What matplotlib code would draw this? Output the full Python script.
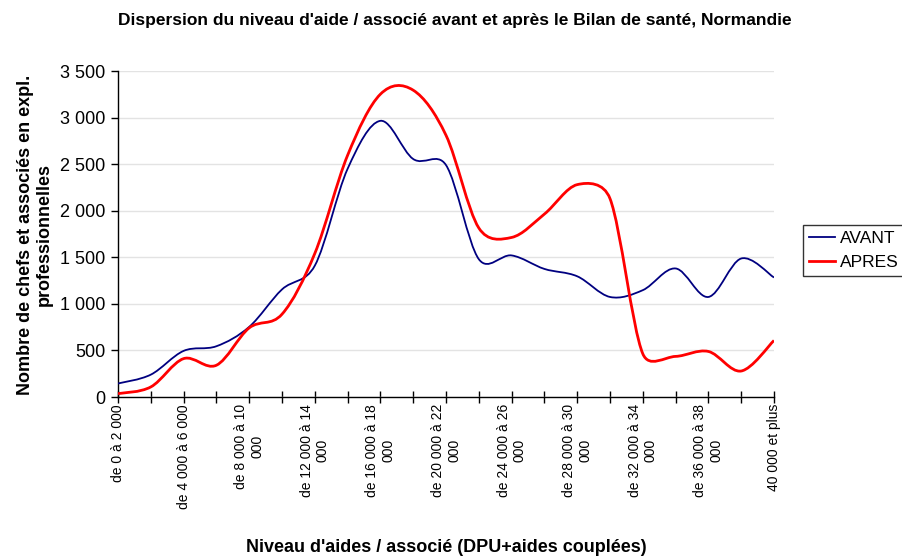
import textwrap

import matplotlib
matplotlib.use("Agg")
import matplotlib.pyplot as plt
from matplotlib.path import Path
from matplotlib.patches import PathPatch
from matplotlib.lines import Line2D
from matplotlib.ticker import FuncFormatter

plt.rcParams['font.family'] = ['Liberation Sans', 'DejaVu Sans']


def fmt(n):
    return f"{n:,}".replace(",", " ")


# categories: 2 000 wide bins + last open bin
categories = ["de %s à %s" % (fmt(a), fmt(a + 2000)) for a in range(0, 40000, 2000)] + ["40 000 et plus"]

avant = [145, 240, 495, 545, 753, 1155, 1410, 2450, 2965, 2555, 2490,
         1480, 1520, 1375, 1296, 1074, 1147, 1380, 1074, 1487, 1283]
apres = [36, 108, 412, 341, 742, 889, 1541, 2595, 3251, 3294, 2810,
         1815, 1713, 1964, 2280, 2130, 464, 436, 489, 279, 607]

# plot area in pixels (figure is 902 x 557)
X0, X1, Y0, Y1 = 118, 774, 397, 71
YMAX = 3500


def smooth_path(vals, k=0.5):
    # Excel style smoothed line: cubic bezier, tangents (P[i+1]-P[i-1])/6,
    # control arms limited to k * segment length (in screen pixels)
    n = len(vals)
    sx = (X1 - X0) / (n - 1)
    sy = (Y0 - Y1) / YMAX
    pts = [(float(i), float(v)) for i, v in enumerate(vals)]

    def arm(pa, pb, seg_a, seg_b):
        dx, dy = (pb[0] - pa[0]) / 6, (pb[1] - pa[1]) / 6
        alen = ((dx * sx) ** 2 + (dy * sy) ** 2) ** 0.5
        slen = (((seg_b[0] - seg_a[0]) * sx) ** 2 + ((seg_b[1] - seg_a[1]) * sy) ** 2) ** 0.5
        if alen > k * slen and alen > 0:
            f = k * slen / alen
            dx, dy = dx * f, dy * f
        return dx, dy

    verts = [pts[0]]
    codes = [Path.MOVETO]
    for i in range(n - 1):
        p0 = pts[max(i - 1, 0)]
        p1 = pts[i]
        p2 = pts[i + 1]
        p3 = pts[min(i + 2, n - 1)]
        d1 = arm(p0, p2, p1, p2)
        d2 = arm(p1, p3, p1, p2)
        verts += [(p1[0] + d1[0], p1[1] + d1[1]), (p2[0] - d2[0], p2[1] - d2[1]), p2]
        codes += [Path.CURVE4] * 3
    return Path(verts, codes)


fig = plt.figure(figsize=(9.02, 5.57), dpi=100)
ax = fig.add_axes([X0 / 902, 1 - Y0 / 557, (X1 - X0) / 902, (Y0 - Y1) / 557])

blue = "#000080"
red = "#ff0000"
ax.add_patch(PathPatch(smooth_path(avant), fill=False, edgecolor=blue, lw=1.3, zorder=3))
ax.add_patch(PathPatch(smooth_path(apres), fill=False, edgecolor=red, lw=2.0, zorder=4))

ax.set_xlim(0, len(categories) - 1)
ax.set_ylim(0, YMAX)
ax.set_yticks(range(0, YMAX + 1, 500))
ax.yaxis.set_major_formatter(FuncFormatter(lambda v, p: fmt(int(v))))
ax.grid(axis='y', color="#e3e3e3", lw=1)
ax.set_axisbelow(True)

ax.set_xticks(range(len(categories)))
labels = [textwrap.fill(c, 16) if i % 2 == 0 else "" for i, c in enumerate(categories)]
ax.set_xticklabels(labels, rotation=90, ha='center', va='top', multialignment='center', fontsize=10)
ax.tick_params(axis='x', direction='inout', length=9, width=1, pad=0.5)
ax.tick_params(axis='y', direction='out', length=5, width=1, labelsize=13, pad=4)

for s in ['top', 'right']:
    ax.spines[s].set_visible(False)
for s in ['left', 'bottom']:
    ax.spines[s].set_linewidth(1)

fig.text(35 / 902, 1 - 235 / 557, "Nombre de chefs et associés en expl.\nprofessionnelles",
         rotation=90, ha='center', va='center', multialignment='center',
         fontsize=13, fontweight='bold')
fig.text(446 / 902, 1 - 548 / 557, "Niveau d'aides / associé (DPU+aides couplées)",
         ha='center', va='center', fontsize=13, fontweight='bold')
fig.text(455 / 902, 1 - 20 / 557,
         "Dispersion du niveau d'aide / associé avant et après le Bilan de santé, Normandie",
         ha='center', va='center', fontsize=12.5, fontweight='bold')

handles = [Line2D([], [], color=blue, lw=1.3), Line2D([], [], color=red, lw=2.0)]
leg = fig.legend(handles, ["AVANT", "APRES"], loc='upper left',
                 bbox_to_anchor=(803 / 902, 1 - 225 / 557), borderaxespad=0,
                 fontsize=12.5, frameon=True, fancybox=False, handlelength=1.5,
                 handletextpad=0.3, borderpad=0.35, labelspacing=0.5)
leg.get_frame().set_edgecolor('black')
leg.get_frame().set_linewidth(1)

fig.savefig("out.png", dpi=100)
